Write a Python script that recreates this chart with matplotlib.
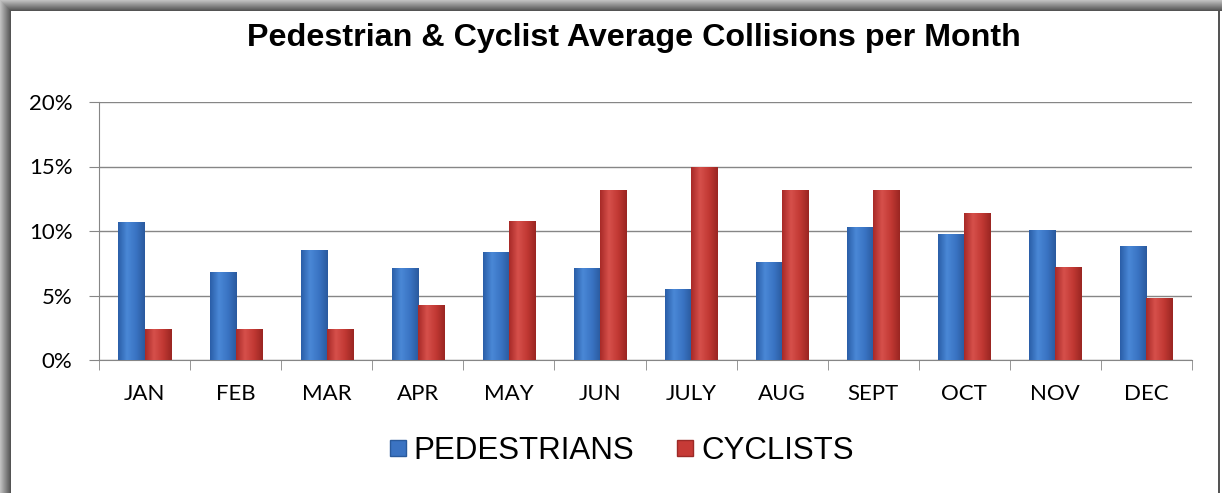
import matplotlib
matplotlib.use("Agg")
import matplotlib.pyplot as plt
import numpy as np
from matplotlib.patches import Rectangle
from matplotlib.ticker import FuncFormatter
from matplotlib.lines import Line2D
from matplotlib.colors import LinearSegmentedColormap

months = ["JAN", "FEB", "MAR", "APR", "MAY", "JUN", "JULY", "AUG", "SEPT", "OCT", "NOV", "DEC"]
pedestrians = [10.7, 6.8, 8.5, 7.1, 8.4, 7.1, 5.5, 7.6, 10.3, 9.8, 10.1, 8.8]
cyclists = [2.4, 2.4, 2.4, 4.3, 10.8, 13.2, 15.0, 13.2, 13.2, 11.4, 7.2, 4.8]
series_names = ["PEDESTRIANS", "CYCLISTS"]
title = "Pedestrian & Cyclist Average Collisions per Month"

W, H = 1222, 493
fig = plt.figure(figsize=(W/100, H/100), dpi=100)

# frame: gradient bands on left and top, thin dark line on right
band = 11
for i in range(band):
    g = 0.75 - 0.42 * i / (band - 1)
    c = (g, g, g)
    fig.patches.append(Rectangle((i/W, 0), 1/W, 1 - i/H, transform=fig.transFigure,
                                 facecolor=c, edgecolor="none", zorder=0))
    fig.patches.append(Rectangle((i/W, 1 - (i+1)/H), 1 - i/W, 1/H, transform=fig.transFigure,
                                 facecolor=c, edgecolor="none", zorder=0))
fig.patches.append(Rectangle((1218/W, 0), 2/W, 1 - band/H, transform=fig.transFigure,
                             facecolor="#555555", edgecolor="none", zorder=0))

ax = fig.add_axes([99/W, 1 - 360/H, (1192 - 99)/W, (360 - 102)/H])
x = np.arange(len(months))
w = 0.286
b1 = ax.bar(x - w/2, pedestrians, w, color="#3b73c2", edgecolor="none", zorder=3)
b2 = ax.bar(x + w/2, cyclists, w, color="#c63a36", edgecolor="none", zorder=3)

ax.set_xlim(-0.5, len(months) - 0.5)
ax.set_ylim(0, 20)

cm_blue = LinearSegmentedColormap.from_list("b", ["#2a5ea8", "#4a88d6", "#3a74c4", "#2a5a9e"])
cm_red = LinearSegmentedColormap.from_list("r", ["#a82a27", "#d6504b", "#c23934", "#9a2622"])
grad = np.linspace(0, 1, 64).reshape(1, -1)
for bars, cm in ((b1, cm_blue), (b2, cm_red)):
    for p in bars:
        x0, y0 = p.get_x(), p.get_y()
        im = ax.imshow(grad, extent=(x0, x0 + p.get_width(), y0, y0 + p.get_height()),
                       cmap=cm, aspect="auto", zorder=3.5, interpolation="bilinear")
        im.set_clip_path(p)
ax.set_xlim(-0.5, len(months) - 0.5)
ax.set_ylim(0, 20)

ax.set_yticks([0, 5, 10, 15, 20])
ax.yaxis.set_major_formatter(FuncFormatter(lambda v, p: f"{int(v)}%"))
ax.grid(axis="y", color="#868686", linewidth=1.0, zorder=0)
ax.set_axisbelow(True)
for s in ["top", "right"]:
    ax.spines[s].set_visible(False)
ax.spines["left"].set_color("#868686")
ax.spines["bottom"].set_color("#868686")
ax.set_xticks(x)
ax.set_xticklabels(months, family="Lato", fontsize=16)
ax.set_xticks(np.arange(len(months) + 1) - 0.5, minor=True)
ax.tick_params(axis="x", which="major", length=0, pad=17)
ax.tick_params(axis="x", which="minor", length=7, color="#868686")
ax.tick_params(axis="y", length=7, color="#868686", labelsize=16, pad=12)
for t in ax.get_yticklabels():
    t.set_family("Lato")
ax.patch.set_alpha(0)

fig.text(634/W, 1 - 38/H, title, ha="center", va="center", fontsize=23.2,
         fontweight="bold", family="Liberation Sans")

handles = [Line2D([], [], marker="s", linestyle="none", markersize=11, markerfacecolor="#3b73c2", markeredgecolor="#2a5a9c"),
           Line2D([], [], marker="s", linestyle="none", markersize=11, markerfacecolor="#c63a36", markeredgecolor="#9c2a27")]
fig.legend(handles, series_names, loc="center", bbox_to_anchor=(620/W, 1 - 451/H),
           ncol=2, frameon=False, prop={"family": "Liberation Sans", "size": 22.5},
           handletextpad=0.15, columnspacing=1.3, handlelength=0.7)

fig.savefig("out.png", dpi=100)
